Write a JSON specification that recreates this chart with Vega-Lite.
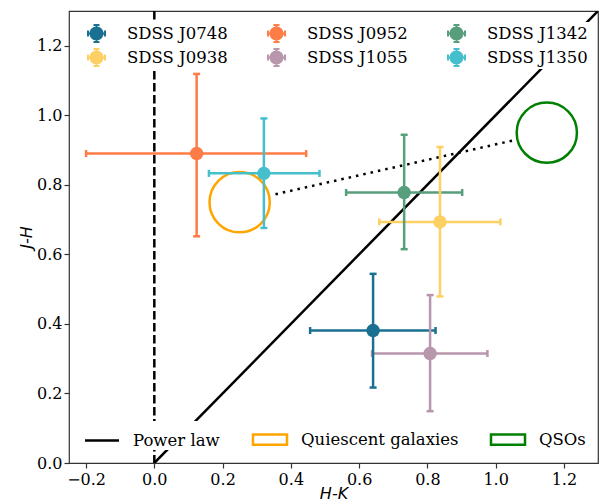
{
  "$schema": "https://vega.github.io/schema/vega-lite/v6.json",
  "width": 529,
  "height": 452,
  "autosize": {"type": "none"},
  "padding": {"left": 69, "top": 11, "right": 3, "bottom": 38},
  "background": "white",
  "config": {
    "view": {"stroke": "#333333", "strokeWidth": 1.2},
    "axis": {
      "grid": false,
      "domain": false,
      "tickColor": "#333333",
      "tickWidth": 1.2,
      "tickSize": 5,
      "labelFont": "DejaVu Serif",
      "labelFontSize": 16,
      "labelColor": "black",
      "titleFont": "DejaVu Sans",
      "titleFontSize": 16,
      "titleFontWeight": "normal",
      "titleFontStyle": "italic",
      "titleColor": "black"
    },
    "legend": {
      "labelFont": "DejaVu Serif",
      "labelFontSize": 16.5,
      "labelColor": "black"
    }
  },
  "datasets": {
    "sources": [
      {"name": "SDSS J0748", "hk": 0.641, "jh": 0.381, "hk_lo": 0.4565, "hk_hi": 0.824, "jh_lo": 0.217, "jh_hi": 0.544},
      {"name": "SDSS J0938", "hk": 0.837, "jh": 0.6935, "hk_lo": 0.659, "hk_hi": 1.014, "jh_lo": 0.479, "jh_hi": 0.909},
      {"name": "SDSS J0952", "hk": 0.124, "jh": 0.89, "hk_lo": -0.2, "hk_hi": 0.445, "jh_lo": 0.652, "jh_hi": 1.119},
      {"name": "SDSS J1055", "hk": 0.808, "jh": 0.315, "hk_lo": 0.638, "hk_hi": 0.976, "jh_lo": 0.149, "jh_hi": 0.483},
      {"name": "SDSS J1342", "hk": 0.732, "jh": 0.778, "hk_lo": 0.562, "hk_hi": 0.902, "jh_lo": 0.615, "jh_hi": 0.944},
      {"name": "SDSS J1350", "hk": 0.321, "jh": 0.833, "hk_lo": 0.16, "hk_hi": 0.484, "jh_lo": 0.676, "jh_hi": 0.991}
    ],
    "guides": [
      {"kind": "Power law", "hk": 0, "jh": 0},
      {"kind": "Power law", "hk": 1.3, "jh": 1.3},
      {"kind": "Quiescent galaxies", "hk": 0.25, "jh": 0.75},
      {"kind": "QSOs", "hk": 1.15, "jh": 0.95}
    ],
    "track": [
      {"hk": 0.355, "jh": 0.773},
      {"hk": 1.048, "jh": 0.927}
    ],
    "zero": [{"hk": 0}]
  },
  "layer": [
    {
      "data": {"name": "zero"},
      "mark": {"type": "rule", "color": "black", "strokeWidth": 2.5, "strokeDash": [8.5, 3.5]},
      "encoding": {
        "x": {"field": "hk", "type": "quantitative", "title": "H-K", "scale": {"domain": [-0.25, 1.3], "nice": false, "zero": false}}
      }
    },
    {
      "data": {"name": "guides"},
      "transform": [{"filter": "datum.kind === 'Power law'"}],
      "mark": {"type": "line", "color": "black", "strokeWidth": 2.5, "clip": true},
      "encoding": {
        "x": {"field": "hk", "type": "quantitative", "title": "H-K"},
        "y": {"field": "jh", "type": "quantitative", "title": "J-H"}
      }
    },
    {
      "data": {"name": "track"},
      "mark": {"type": "line", "color": "black", "strokeWidth": 2.5, "strokeDash": [2.5, 5]},
      "encoding": {
        "x": {"field": "hk", "type": "quantitative", "title": "H-K"},
        "y": {"field": "jh", "type": "quantitative", "title": "J-H"}
      }
    },
    {
      "data": {"name": "guides"},
      "transform": [{"filter": "datum.kind !== 'Power law'"}],
      "mark": {"type": "point", "shape": "circle", "filled": false, "size": 3632, "strokeWidth": 2.5, "opacity": 1},
      "encoding": {
        "x": {"field": "hk", "type": "quantitative", "title": "H-K"},
        "y": {"field": "jh", "type": "quantitative", "title": "J-H"},
        "stroke": {
          "field": "kind", "type": "nominal",
          "scale": {"domain": ["Power law", "Quiescent galaxies", "QSOs"], "range": ["black", "#ffa500", "#008000"]}
        }
      }
    },
    {
      "data": {"name": "guides"},
      "mark": {"type": "point", "filled": false, "opacity": 0, "strokeWidth": 2.5},
      "encoding": {
        "x": {"field": "hk", "type": "quantitative", "title": "H-K"},
        "y": {"field": "jh", "type": "quantitative", "title": "J-H"},
        "stroke": {
          "field": "kind",
          "type": "nominal",
          "scale": {"domain": ["Power law", "Quiescent galaxies", "QSOs"], "range": ["black", "#ffa500", "#008000"]},
          "legend": {
            "orient": "none",
            "legendX": 14.5,
            "legendY": 410,
            "direction": "horizontal",
            "title": null,
            "padding": 0,
            "fillColor": "white",
            "symbolSize": 1156,
            "symbolStrokeWidth": 2.5,
            "symbolOpacity": 1,
            "labelOffset": 12.5,
            "columnPadding": 27
          }
        },
        "shape": {
          "field": "kind",
          "type": "nominal",
          "scale": {"domain": ["Power law", "Quiescent galaxies", "QSOs"], "range": ["stroke", "M-1,-0.3H1V0.3H-1Z", "M-1,-0.3H1V0.3H-1Z"]},
          "legend": {
            "orient": "none",
            "legendX": 14.5,
            "legendY": 410,
            "direction": "horizontal",
            "title": null,
            "padding": 0,
            "fillColor": "white",
            "symbolSize": 1156,
            "symbolStrokeWidth": 2.5,
            "symbolOpacity": 1,
            "labelOffset": 12.5,
            "columnPadding": 27
          }
        }
      }
    },
    {
      "data": {"name": "sources"},
      "mark": {"type": "errorbar", "thickness": 2.5, "rule": {"strokeWidth": 2.5, "opacity": 1}, "ticks": {"size": 7, "thickness": 2.5, "opacity": 1}},
      "encoding": {
        "x": {"field": "hk_lo", "type": "quantitative", "title": "H-K"},
        "x2": {"field": "hk_hi"},
        "y": {"field": "jh", "type": "quantitative", "title": "J-H"},
        "color": {
          "field": "name", "type": "nominal",
          "scale": {
            "domain": ["SDSS J0748", "SDSS J0938", "SDSS J0952", "SDSS J1055", "SDSS J1342", "SDSS J1350"],
            "range": ["#1a7090", "#fdd063", "#fe7c45", "#b896ab", "#579e7c", "#45bfcc"]
          }
        }
      }
    },
    {
      "data": {"name": "sources"},
      "mark": {"type": "errorbar", "thickness": 2.5, "rule": {"strokeWidth": 2.5, "opacity": 1}, "ticks": {"size": 7, "thickness": 2.5, "opacity": 1}},
      "encoding": {
        "y": {"field": "jh_lo", "type": "quantitative", "title": "J-H"},
        "y2": {"field": "jh_hi"},
        "x": {"field": "hk", "type": "quantitative", "title": "H-K"},
        "color": {
          "field": "name", "type": "nominal",
          "scale": {
            "domain": ["SDSS J0748", "SDSS J0938", "SDSS J0952", "SDSS J1055", "SDSS J1342", "SDSS J1350"],
            "range": ["#1a7090", "#fdd063", "#fe7c45", "#b896ab", "#579e7c", "#45bfcc"]
          }
        }
      }
    },
    {
      "data": {"name": "sources"},
      "mark": {"type": "point", "shape": "circle", "filled": true, "size": 180, "opacity": 1},
      "encoding": {
        "x": {
          "field": "hk", "type": "quantitative", "title": "H-K",
          "axis": {"title": "H-K", "values": [-0.2, 0, 0.2, 0.4, 0.6, 0.8, 1.0, 1.2], "format": ".1f", "labelPadding": 3, "titlePadding": -2}
        },
        "y": {
          "field": "jh", "type": "quantitative", "title": "J-H",
          "scale": {"domain": [0, 1.3], "nice": false, "zero": false},
          "axis": {"title": "J-H", "values": [0, 0.2, 0.4, 0.6, 0.8, 1.0, 1.2], "format": ".1f", "labelPadding": 2, "titlePadding": 2}
        },
        "color": {
          "field": "name",
          "type": "nominal",
          "scale": {
            "domain": ["SDSS J0748", "SDSS J0938", "SDSS J0952", "SDSS J1055", "SDSS J1342", "SDSS J1350"],
            "range": ["#1a7090", "#fdd063", "#fe7c45", "#b896ab", "#579e7c", "#45bfcc"]
          },
          "legend": {
            "orient": "none",
            "legendX": 16,
            "legendY": 11,
            "columns": 3,
            "title": null,
            "padding": 2,
            "fillColor": "white",
            "columnPadding": 39,
            "rowPadding": 5,
            "labelOffset": 21,
            "symbolSize": 361,
            "symbolStrokeWidth": 0,
            "symbolOpacity": 1,
            "symbolType": "M-0.737,0A0.737,0.737 0 1,1 0.737,0A0.737,0.737 0 1,1 -0.737,0Z M-1,-0.105H1V0.105H-1Z M-0.105,-1H0.105V1H-0.105Z M0.79,-0.316H1V0.316H0.79Z M-1,-0.316H-0.79V0.316H-1Z M-0.316,-1H0.316V-0.79H-0.316Z M-0.316,0.79H0.316V1H-0.316Z"
          }
        }
      }
    }
  ]
}
